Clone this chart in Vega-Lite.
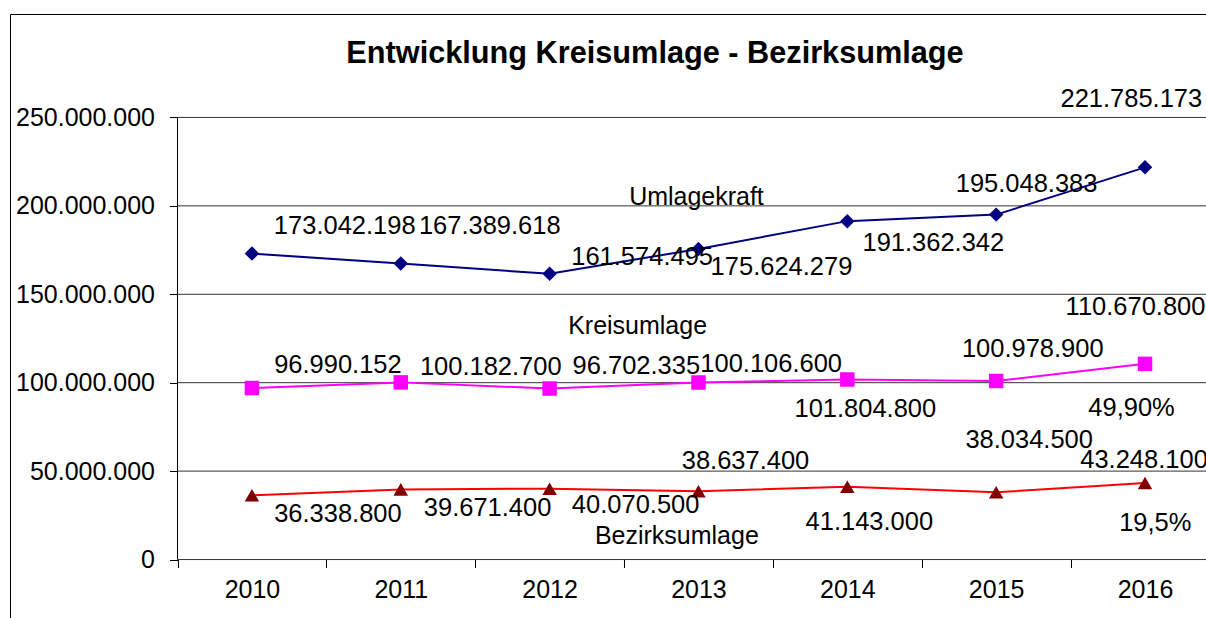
{
  "$schema": "https://vega.github.io/schema/vega-lite/v6.json",
  "width": 1339.65,
  "height": 687,
  "autosize": "none",
  "padding": {"left": 10, "top": 14, "right": 0, "bottom": 0},
  "background": "#ffffff",
  "title": {"text": "Entwicklung Kreisumlage - Bezirksumlage", "fontSize": 30.7, "fontWeight": "bold", "color": "#000000", "font": "Liberation Sans", "anchor": "middle", "frame": "group", "dx": -24.8, "offset": -80, "baseline": "alphabetic"},
  "config": {
    "font": "Liberation Sans",
    "view": {"stroke": "#000000", "strokeWidth": 1},
    "locale": {"number": {"decimal": ",", "thousands": ".", "grouping": [3], "currency": ["", "€"]}},
    "text": {"fontSize": 25.5, "color": "#000000", "font": "Liberation Sans"},
    "axis": {"labelFont": "Liberation Sans", "labelFontSize": 25, "labelColor": "#000000", "tickColor": "#000000", "tickWidth": 1}
  },
  "datasets": {
    "main": [
      {"year": "2010", "series": "Umlagekraft", "value": 173042198},
      {"year": "2011", "series": "Umlagekraft", "value": 167389618},
      {"year": "2012", "series": "Umlagekraft", "value": 161574495},
      {"year": "2013", "series": "Umlagekraft", "value": 175624279},
      {"year": "2014", "series": "Umlagekraft", "value": 191362342},
      {"year": "2015", "series": "Umlagekraft", "value": 195048383},
      {"year": "2016", "series": "Umlagekraft", "value": 221785173},
      {"year": "2010", "series": "Kreisumlage", "value": 96990152},
      {"year": "2011", "series": "Kreisumlage", "value": 100182700},
      {"year": "2012", "series": "Kreisumlage", "value": 96702335},
      {"year": "2013", "series": "Kreisumlage", "value": 100106600},
      {"year": "2014", "series": "Kreisumlage", "value": 101804800},
      {"year": "2015", "series": "Kreisumlage", "value": 100978900},
      {"year": "2016", "series": "Kreisumlage", "value": 110670800},
      {"year": "2010", "series": "Bezirksumlage", "value": 36338800},
      {"year": "2011", "series": "Bezirksumlage", "value": 39671400},
      {"year": "2012", "series": "Bezirksumlage", "value": 40070500},
      {"year": "2013", "series": "Bezirksumlage", "value": 38637400},
      {"year": "2014", "series": "Bezirksumlage", "value": 41143000},
      {"year": "2015", "series": "Bezirksumlage", "value": 38034500},
      {"year": "2016", "series": "Bezirksumlage", "value": 43248100}
    ],
    "grid": [
      {"value": 0}, {"value": 50000000}, {"value": 100000000}, {"value": 150000000}, {"value": 200000000}, {"value": 250000000}
    ]
  },
  "data": {"name": "main"},
  "layer": [
    {
      "data": {"name": "grid"},
      "mark": {"type": "rule", "color": "#333333", "strokeWidth": 1},
      "encoding": {
        "y": {"field": "value", "type": "quantitative"},
        "x": {"datum": "2010", "type": "ordinal", "bandPosition": 0},
        "x2": {"datum": "2016", "bandPosition": 1}
      }
    },
    {
      "data": {"name": "grid"},
      "transform": [{"filter": "datum.value === 0"}],
      "mark": {"type": "rule", "color": "#000000", "strokeWidth": 1},
      "encoding": {
        "y": {"field": "value", "type": "quantitative"},
        "y2": {"datum": 250000000},
        "x": {"datum": "2010", "type": "ordinal", "bandPosition": 0}
      }
    },
    {
      "encoding": {
        "x": {"field": "year", "type": "ordinal", "scale": {"type": "band", "paddingInner": 0, "paddingOuter": 1, "align": 0.56265},
              "axis": {"orient": "bottom", "offset": -141.5, "tickBand": "extent", "tickSize": 8, "labelPadding": 10, "labelAngle": 0, "labelAlign": "center", "labelBaseline": "top", "title": null, "domain": false, "grid": false}},
        "y": {"field": "value", "type": "quantitative", "scale": {"domain": [-80000000, 308500000], "nice": false, "zero": false},
              "axis": {"orient": "left", "offset": -167.5, "values": [0, 50000000, 100000000, 150000000, 200000000, 250000000], "format": ",d", "tickSize": 8, "labelPadding": 15, "labelAlign": "right", "labelBaseline": "middle", "title": null, "domain": false, "grid": false, "labelFlush": false, "labelOverlap": false}}
      },
      "layer": [
        {
          "mark": {"type": "line", "strokeWidth": 2},
          "encoding": {
            "stroke": {"field": "series", "type": "nominal", "scale": {"domain": ["Umlagekraft", "Kreisumlage", "Bezirksumlage"], "range": ["#000080", "#FF00FF", "#FF0000"]}, "legend": null}
          }
        },
        {
          "mark": {"type": "point", "filled": true, "size": 210, "opacity": 1, "strokeWidth": 0},
          "encoding": {
            "fill": {"field": "series", "type": "nominal", "scale": {"domain": ["Umlagekraft", "Kreisumlage", "Bezirksumlage"], "range": ["#000080", "#FF00FF", "#800000"]}, "legend": null},
            "shape": {"field": "series", "type": "nominal", "scale": {"domain": ["Umlagekraft", "Kreisumlage", "Bezirksumlage"], "range": ["diamond", "square", "triangle-up"]}, "legend": null}
          }
        },
        {
          "encoding": {"text": {"field": "value", "type": "quantitative", "format": ",d"}},
          "layer": [
            {"transform": [{"filter": "datum.series==='Umlagekraft' && datum.year==='2010'"}], "mark": {"type": "text", "dx": 92.8, "dy": -28}},
            {"transform": [{"filter": "datum.series==='Umlagekraft' && datum.year==='2011'"}], "mark": {"type": "text", "dx": 89, "dy": -38}},
            {"transform": [{"filter": "datum.series==='Umlagekraft' && datum.year==='2012'"}], "mark": {"type": "text", "dx": 92.5, "dy": -17.3}},
            {"transform": [{"filter": "datum.series==='Umlagekraft' && datum.year==='2013'"}], "mark": {"type": "text", "dx": 83, "dy": 18.5}},
            {"transform": [{"filter": "datum.series==='Umlagekraft' && datum.year==='2014'"}], "mark": {"type": "text", "dx": 86, "dy": 21.5}},
            {"transform": [{"filter": "datum.series==='Umlagekraft' && datum.year==='2015'"}], "mark": {"type": "text", "dx": 30.4, "dy": -30.5}},
            {"transform": [{"filter": "datum.series==='Umlagekraft' && datum.year==='2016'"}], "mark": {"type": "text", "dx": -13.7, "dy": -68.5}},
            {"transform": [{"filter": "datum.series==='Kreisumlage' && datum.year==='2010'"}], "mark": {"type": "text", "dx": 86, "dy": -23.5}},
            {"transform": [{"filter": "datum.series==='Kreisumlage' && datum.year==='2011'"}], "mark": {"type": "text", "dx": 90, "dy": -15}},
            {"transform": [{"filter": "datum.series==='Kreisumlage' && datum.year==='2012'"}], "mark": {"type": "text", "dx": 86.7, "dy": -23}},
            {"transform": [{"filter": "datum.series==='Kreisumlage' && datum.year==='2013'"}], "mark": {"type": "text", "dx": 72.7, "dy": -18.5}},
            {"transform": [{"filter": "datum.series==='Kreisumlage' && datum.year==='2014'"}], "mark": {"type": "text", "dx": 18, "dy": 29.5}},
            {"transform": [{"filter": "datum.series==='Kreisumlage' && datum.year==='2015'"}], "mark": {"type": "text", "dx": 36.6, "dy": -32}},
            {"transform": [{"filter": "datum.series==='Kreisumlage' && datum.year==='2016'"}], "mark": {"type": "text", "dx": -9.5, "dy": -56.5}},
            {"transform": [{"filter": "datum.series==='Bezirksumlage' && datum.year==='2010'"}], "mark": {"type": "text", "dx": 86, "dy": 19.2}},
            {"transform": [{"filter": "datum.series==='Bezirksumlage' && datum.year==='2011'"}], "mark": {"type": "text", "dx": 86.8, "dy": 19.1}},
            {"transform": [{"filter": "datum.series==='Bezirksumlage' && datum.year==='2012'"}], "mark": {"type": "text", "dx": 86, "dy": 16.8}},
            {"transform": [{"filter": "datum.series==='Bezirksumlage' && datum.year==='2013'"}], "mark": {"type": "text", "dx": 47, "dy": -30.5}},
            {"transform": [{"filter": "datum.series==='Bezirksumlage' && datum.year==='2014'"}], "mark": {"type": "text", "dx": 22, "dy": 35.5}},
            {"transform": [{"filter": "datum.series==='Bezirksumlage' && datum.year==='2015'"}], "mark": {"type": "text", "dx": 33, "dy": -52.5}},
            {"transform": [{"filter": "datum.series==='Bezirksumlage' && datum.year==='2016'"}], "mark": {"type": "text", "dx": -1, "dy": -23}}
          ]
        },
        {"transform": [{"filter": "datum.series==='Umlagekraft' && datum.year==='2013'"}], "mark": {"type": "text", "text": "Umlagekraft", "fontSize": 25, "dx": -2, "dy": -52}},
        {"transform": [{"filter": "datum.series==='Kreisumlage' && datum.year==='2012'"}], "mark": {"type": "text", "text": "Kreisumlage", "fontSize": 25, "dx": 88, "dy": -62.5}},
        {"transform": [{"filter": "datum.series==='Bezirksumlage' && datum.year==='2013'"}], "mark": {"type": "text", "text": "Bezirksumlage", "fontSize": 25, "dx": -21.6, "dy": 45}},
        {"transform": [{"filter": "datum.series==='Kreisumlage' && datum.year==='2016'"}], "mark": {"type": "text", "text": "49,90%", "dx": -13.5, "dy": 44}},
        {"transform": [{"filter": "datum.series==='Bezirksumlage' && datum.year==='2016'"}], "mark": {"type": "text", "text": "19,5%", "dx": 10.3, "dy": 39.5}}
      ]
    }
  ]
}
